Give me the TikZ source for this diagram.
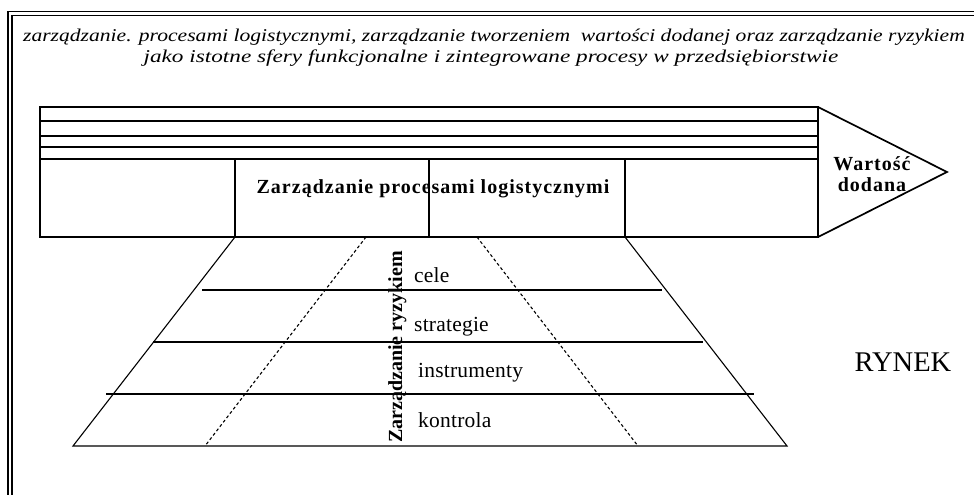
\documentclass[tikz,border=0pt]{standalone}
\usepackage{fontspec}
\setmainfont{Liberation Serif}
\newfontfamily\titlefont[FakeStretch=1.2]{Liberation Serif}
\newfontfamily\titlefontwide[FakeStretch=1.29]{Liberation Serif}
\newfontfamily\spacedfont[LetterSpace=5]{Liberation Serif}
\newfontfamily\levelfont[LetterSpace=1]{Liberation Serif}

\tikzset{
  frameline/.style = {double, line width=1.5pt, double distance=2.5pt},
  blockline/.style = {line width=1.7pt},
  pyrline/.style = {line width=1.1pt},
  dashline/.style = {line width=1.1pt, dashed, dash pattern=on 3pt off 2.5pt},
  titletext/.style = {anchor=base, inner sep=0pt, font=\titlefont\itshape\fontsize{18}{21}\selectfont},
  boldtext/.style = {anchor=base, inner sep=0pt, font=\spacedfont\bfseries\fontsize{20}{23}\selectfont},
  leveltext/.style = {anchor=base west, inner sep=0pt, font=\levelfont\fontsize{21.5}{24}\selectfont}
}

\begin{document}
\begin{tikzpicture}[x=1pt, y=-1pt]
  \useasboundingbox (0,0) rectangle (974,495);
  % frame
  \draw[frameline] (980,13.5) -| (10,500);

  % title
  \node[titletext] (title1) at (494,42) {zarządzanie. procesami logistycznymi, zarządzanie tworzeniem\ \ wartości dodanej oraz zarządzanie ryzykiem};
  \node[titletext, font=\titlefontwide\itshape\fontsize{18}{21}\selectfont] (title2) at (491,63) {jako istotne sfery funkcjonalne i zintegrowane procesy w przedsiębiorstwie};

  % arrow block
  \draw[blockline] (40,107) rectangle (818,237);
  \draw[blockline] (818,107) -- (947,172) -- (818,237);
  \foreach \y in {121,136,147,159}
    \draw[blockline] (40,\y) -- (818,\y);
  \foreach \x in {235,429,625}
    \draw[blockline] (\x,159) -- (\x,237);
  \node[boldtext] (procesy) at (433,193) {Zarządzanie procesami logistycznymi};
  \node[boldtext] (wartosc) at (872,170) {Wartość};
  \node[boldtext] (dodana) at (872,191) {dodana};

  % pyramid
  \draw[pyrline] (235,237) -- (73,446) -- (787,446) -- (625,237);
  \draw[pyrline] (202,290) -- (662,290);
  \draw[pyrline] (153,342) -- (703,342);
  \draw[pyrline] (106,394) -- (754,394);
  \draw[dashline] (366,237) -- (205,446);
  \draw[dashline] (477,237) -- (638,446);

  \node[boldtext, font=\rmfamily\bfseries\fontsize{20}{23}\selectfont, rotate=90, anchor=base west] (ryzyko) at (402,443) {Zarządzanie ryzykiem};
  \node[leveltext] (cele) at (414,282) {cele};
  \node[leveltext] (strategie) at (414,331) {strategie};
  \node[leveltext] (instrumenty) at (418,377) {instrumenty};
  \node[leveltext] (kontrola) at (418,427) {kontrola};

  \node[anchor=base, inner sep=0pt, font=\fontsize{28.5}{32}\selectfont] (rynek) at (903,371) {RYNEK};
\end{tikzpicture}
\end{document}
